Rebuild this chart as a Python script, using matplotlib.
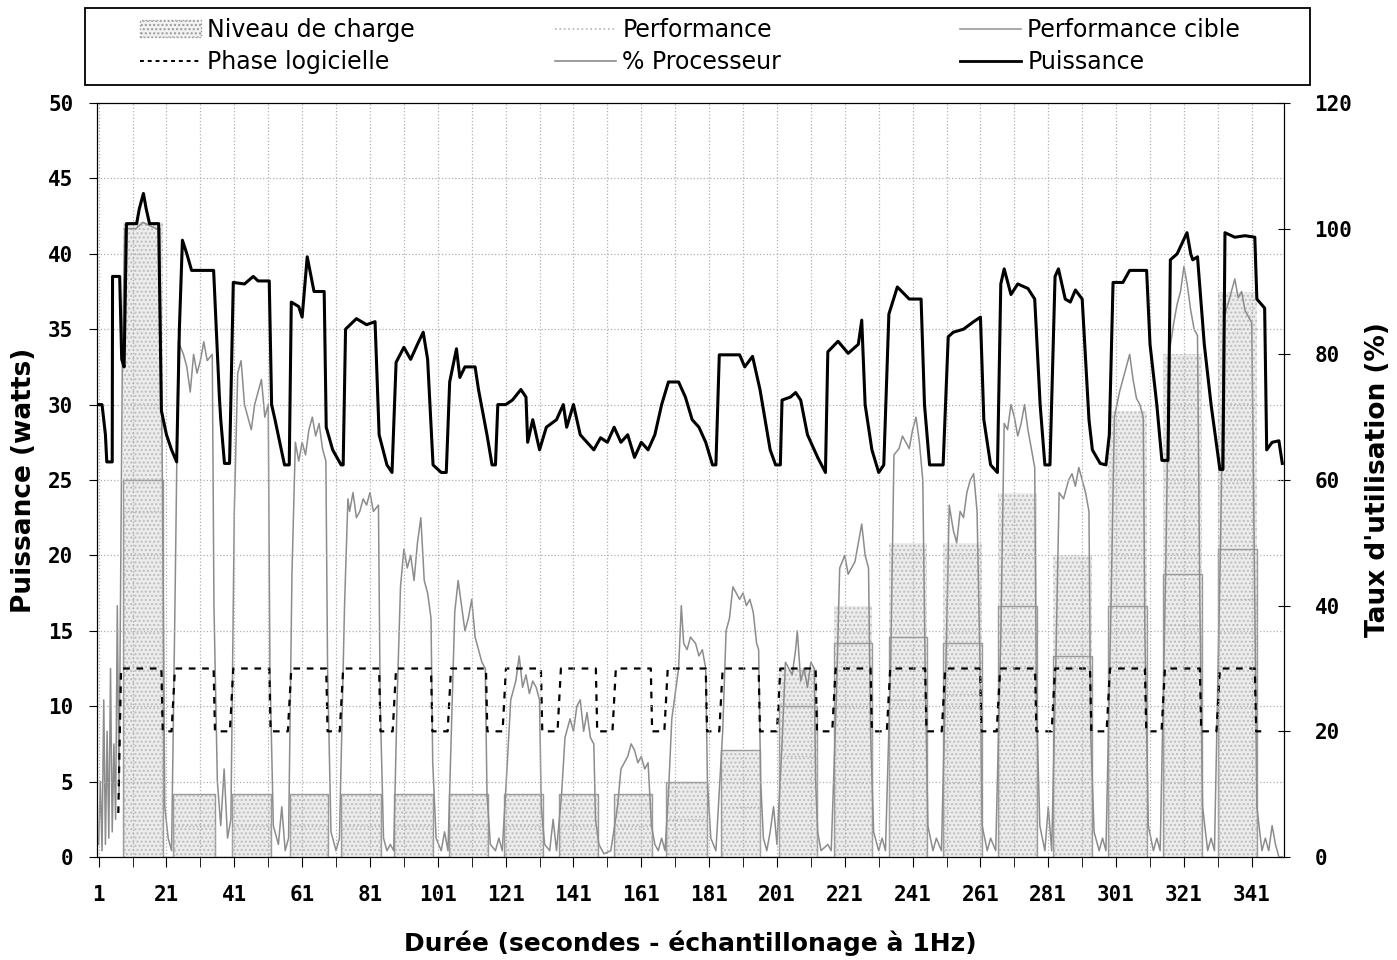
import matplotlib
matplotlib.use('Agg')
import numpy as np
import matplotlib.pyplot as plt
import matplotlib.patches as mpatches
from matplotlib.lines import Line2D

# high phases of the software phase (start, end) in seconds
phase_start = [8.7, 23.5, 40.7, 57.8, 73.1, 88.7, 104.9, 121.1, 137.3, 153.5, 168.8,
               185.0, 202.0, 218.3, 234.4, 250.6, 266.8, 283.0, 299.2, 315.4, 331.6]
phase_end = [19.5, 34.9, 51.3, 68.1, 83.7, 99.0, 115.2, 131.4, 147.6, 163.8, 180.0,
             195.6, 212.4, 228.6, 244.7, 260.9, 277.1, 293.3, 309.5, 325.7, 341.9]
phase_high = 30
phase_low = 20

# load level / target performance / performance per phase (% right axis)
charge = [101, 10, 10, 10, 10, 10, 10, 10, 10, 10, 12, 17, 30, 40, 50, 50, 58, 48, 71, 80, 90]
perf_cible = [60, 10, 10, 10, 10, 10, 10, 10, 10, 10, 12, 17, 24, 34, 35, 34, 40, 32, 40, 45, 49]
perf = [55, 5, 5, 5, 5, 5, 5, 5, 5, 5, 6, 8, 16, 24, 25, 26, 30, 30, 31, 37, 41]

# power (seconds, W)
puissance = [
    (1, 30), (2, 30), (3, 28), (3.4, 26.2), (5, 26.2), (5.1, 38.5), (7.2, 38.5), (7.8, 33), (8.5, 32.5),
    (9.2, 42), (12.2, 42), (13, 43), (14.2, 44), (15, 43), (16, 42), (18.7, 42), (19.5, 29.6), (21, 28),
    (22.5, 27), (24, 26.2), (24.8, 35), (25.7, 40.9), (27, 40), (28.4, 38.9), (34.9, 38.9), (36.6, 30.5),
    (37, 29), (38.1, 26.1), (39.6, 26.1), (40.7, 38.1), (44, 38), (46.6, 38.5), (48, 38.2), (51.3, 38.2),
    (52, 30), (53, 29), (55.8, 26), (57.2, 26), (57.8, 36.8), (60, 36.5), (61, 35.8), (62.5, 39.8),
    (64.5, 37.5), (67.5, 37.5), (68.1, 28.5), (70, 27), (72.5, 26), (73.1, 26), (73.8, 35), (77, 35.7),
    (80, 35.3), (82.5, 35.5), (83.7, 28), (86, 26), (87.5, 25.5), (88.7, 32.8), (91, 33.8), (93, 33),
    (95, 34), (96.7, 34.8), (98, 33), (99.6, 26), (102, 25.5), (103.5, 25.5), (104.5, 31.5), (106.5, 33.7),
    (107.5, 31.8), (109, 32.5), (112, 32.5), (113, 31), (115.5, 28), (117, 26), (118, 26), (118.7, 30),
    (121, 30), (123, 30.3), (125.5, 31), (127, 30.5), (127.5, 27.5), (129, 29), (131, 27), (133, 28.5),
    (136, 29), (138, 30), (139, 28.5), (141, 30), (143, 28), (145, 27.5), (147, 27), (149, 27.8),
    (151, 27.5), (153, 28.5), (155, 27.5), (157, 28), (159, 26.5), (161, 27.5), (163, 27), (165, 28),
    (167, 30), (169, 31.5), (172, 31.5), (174, 30.5), (176, 29), (178, 28.5), (180, 27.5), (182, 26),
    (183, 26), (184, 33.3), (190, 33.3), (191.5, 32.5), (193.8, 33.2), (196, 31), (197.5, 29), (199, 27),
    (200.6, 26), (202, 26), (202.5, 30.3), (205, 30.5), (206.5, 30.8), (208, 30.3), (210, 28), (213, 26.5),
    (215.3, 25.5), (216, 33.5), (219, 34.2), (222, 33.4), (225, 34), (226, 35.6), (227, 30), (229, 27),
    (231, 25.5), (232.5, 26), (234, 36), (236.5, 37.8), (240, 37), (243.5, 37), (244.5, 30), (246, 26),
    (250, 26), (251.5, 34.5), (253, 34.8), (256, 35), (259, 35.5), (261, 35.8), (262, 29), (264, 26),
    (266, 25.5), (267, 38), (268, 39), (270, 37.3), (272, 38), (275, 37.7), (277, 37), (278.6, 30),
    (280, 26), (281.5, 26), (283, 38.5), (284, 39), (286, 37), (287.5, 36.8), (289, 37.6), (291, 37),
    (293, 29), (294, 27), (296.3, 26.1), (298, 26), (299, 28), (300.1, 38.1), (303, 38.1), (305, 38.9),
    (310, 38.9), (311, 34), (313, 30), (314.5, 26.3), (316.3, 26.3), (317, 39.6), (319, 40), (321.9, 41.4),
    (323, 40), (323.6, 39.6), (325, 39.8), (327, 34), (329, 30), (331.6, 25.7), (332.5, 25.7),
    (333.1, 41.4), (336, 41.1), (339, 41.2), (341.9, 41.1), (342.5, 37), (344.8, 36.4), (345.4, 27),
    (347, 27.5), (349, 27.6), (350, 26.1),
]

# processor usage (seconds, %)
processeur = [
    (1, 2), (1.5, 12), (2, 1), (2.5, 25), (3, 2), (3.5, 20), (4, 3), (4.5, 30), (5, 4), (5.5, 18), (6, 6),
    (6.5, 40), (7, 10), (7.5, 45), (8, 80), (8.7, 100), (12, 100), (14, 101), (18, 100), (19, 100),
    (19.8, 60), (20.5, 8), (21.5, 3), (22.5, 1),
    (23.5, 40), (24.5, 82), (26, 80), (27, 78), (28, 74), (29, 80), (30, 77), (31, 79), (32, 82), (33, 79),
    (34.5, 80), (35, 40), (36, 12), (37, 5), (38, 14), (39, 3), (40, 6),
    (41, 55), (42, 77), (43, 79), (44, 72), (45, 70), (46, 68), (47, 72), (48, 74), (49, 76), (50, 70),
    (51, 72), (51.5, 30), (52.5, 5), (54, 2), (55, 8), (56, 1), (57, 3),
    (58, 45), (59, 66), (60, 63), (61, 66), (62, 64), (63, 68), (64, 70), (65, 67), (66, 69), (67, 65),
    (68, 63), (68.5, 30), (69.5, 4), (71, 1), (72, 3),
    (73.5, 40), (74.5, 57), (75, 55), (76, 58), (77, 54), (78, 55), (79, 57), (80, 56), (81, 58), (82, 55),
    (83.5, 56), (84, 25), (85, 3), (86, 1), (87, 2), (88, 1),
    (89, 25), (90, 43), (91, 49), (92, 46), (93, 48), (94, 44), (95, 50), (96, 54), (97, 44), (98, 42),
    (99, 38), (99.5, 15), (100.5, 3), (102, 1), (103, 4), (104, 1),
    (105, 20), (106, 39), (107, 44), (108, 40), (109, 36), (110, 38), (111, 41), (112, 35), (113, 33),
    (114, 31), (115, 30), (115.5, 10), (116.5, 2), (118, 1), (119, 3), (120, 1),
    (121.5, 15), (122.5, 25), (124, 28), (125, 32), (126, 27), (127, 29), (128, 26), (129, 28), (130, 27),
    (131, 25), (131.5, 8), (132.5, 2), (134, 1), (135, 6), (136, 1),
    (137.5, 10), (138.5, 19), (140, 22), (141, 20), (142, 24), (143, 25), (144, 20), (145, 23), (146, 19),
    (147, 18), (147.5, 6), (148.5, 2), (150, 0.5), (152, 1),
    (154, 8), (155, 14), (156, 15), (157, 16), (158, 18), (159, 17), (160, 15), (161, 16), (162, 14),
    (163, 15), (164, 5), (165, 2), (166, 1), (167, 3), (168, 1),
    (169, 10), (170, 22), (171, 26), (172, 30), (172.8, 40), (173.5, 34), (174.5, 33), (175.5, 35),
    (177, 34), (178, 32), (179, 33), (180, 30), (180.5, 12), (181.5, 3), (183, 1),
    (185, 20), (186, 36), (187, 38), (188, 43), (189, 42), (190, 41), (191, 42), (192, 40), (193, 41),
    (194, 39), (195, 34), (195.6, 33), (196.2, 12), (197, 3), (198, 1), (199, 4), (200, 8), (201, 2),
    (202.5, 18), (203.5, 31), (204.5, 30), (205.5, 29), (206.5, 33), (207, 36), (208, 28), (209, 30),
    (210, 27), (211, 31), (212, 30), (212.4, 12), (213, 4), (214, 1), (216, 2), (217, 1),
    (218.5, 25), (219.5, 46), (221, 48), (222, 45), (223, 46), (224, 47), (225, 50), (226, 53), (227, 48),
    (228, 46), (228.6, 20), (229.5, 4), (231, 1), (232, 3), (233, 1),
    (234.5, 30), (235.5, 64), (237, 65), (238, 67), (239, 66), (240, 65), (241, 68), (242, 70), (243, 66),
    (244, 60), (244.7, 30), (245.5, 5), (247, 1), (248, 3), (249.5, 1),
    (250.8, 30), (251.8, 56), (253, 52), (254, 50), (255, 55), (256, 54), (257, 58), (258, 60), (259, 61),
    (260, 55), (260.9, 30), (261.5, 5), (263, 1), (264, 3), (265.5, 1),
    (267, 35), (268, 69), (269, 68), (270, 72), (271, 70), (272, 67), (273, 69), (274, 72), (275, 68),
    (276, 65), (277, 62), (277.5, 25), (278.5, 5), (280, 1), (281, 8), (282, 1),
    (283.2, 30), (284.2, 58), (285.5, 57), (287, 60), (288, 61), (289, 59), (290, 62), (291, 60),
    (292, 58), (293, 55), (293.5, 20), (294.5, 4), (296, 1), (297, 3), (298, 1),
    (299.5, 40), (300.5, 70), (302, 74), (303, 76), (304, 78), (305, 80), (306, 76), (307, 73), (308, 72),
    (309, 70), (309.5, 35), (310.5, 5), (312, 1), (313, 3), (314, 1),
    (315.6, 45), (316.6, 80), (318, 85), (319, 88), (320, 90), (321, 94), (322, 91), (323, 87), (324, 84),
    (325, 83), (325.7, 40), (326.5, 8), (328, 1), (329, 3), (330, 1),
    (331.8, 50), (332.8, 86), (334, 88), (335, 90), (336, 92), (337, 89), (338, 90), (339, 87), (340, 86),
    (341, 85), (341.9, 40), (342.5, 8), (344, 1), (345, 3), (346, 1), (347, 5), (348, 2), (349, 0), (350, 0),
]

xticks = [1, 21, 41, 61, 81, 101, 121, 141, 161, 181, 201, 221, 241, 261, 281, 301, 321, 341]

puis_t, puis_v = zip(*puissance)
proc_t, proc_v = zip(*processeur)

fig = plt.figure(figsize=(13.97, 9.6), dpi=100)
ax = fig.add_axes([0.0694, 0.1073, 0.8497, 0.7854])
ax2 = ax.twinx()

# phase line
ph_x = [6.8, 7.6]
ph_y = [7, phase_high]
for i, (s, e) in enumerate(zip(phase_start, phase_end)):
    if i > 0:
        ph_x += [s - 1.0, s]
        ph_y += [phase_low, phase_high]
    ph_x += [e, e + 0.4]
    ph_y += [phase_high, phase_low]
ph_x.append(345)
ph_y.append(phase_low)

# load level fill + performance step lines
pc_x, pc_y, pf_x, pf_y = [], [], [], []
for s, e, lv, c, p in zip(phase_start, phase_end, charge, perf_cible, perf):
    ax2.fill_between([s - 0.5, e + 0.5], 0, lv, facecolor='#ececec', edgecolor='#bdbdbd',
                     hatch='....', linewidth=0, zorder=1)
    pc_x += [s - 0.5, s - 0.5, e + 0.5, e + 0.5]
    pc_y += [0, c, c, 0]
    pf_x += [s - 0.3, s - 0.3, e + 0.3, e + 0.3]
    pf_y += [0, p, p, 0]

ax2.plot(pc_x, pc_y, color='#9a9a9a', lw=1.0, zorder=2)
ax2.plot(pf_x, pf_y, color='#b5b5b5', lw=1.0, ls=':', zorder=2)
ax2.plot(proc_t, proc_v, color='#8c8c8c', lw=1.1, zorder=3)
ax2.plot(ph_x, ph_y, color='black', lw=1.6, ls=(0, (3, 3)), zorder=4)
ax.plot(puis_t, puis_v, color='black', lw=2.2, zorder=5)
ax.set_zorder(ax2.get_zorder() + 1)
ax.patch.set_visible(False)

ax.set_xlim(0.5, 350.5)
ax.set_ylim(0, 50)
ax2.set_ylim(0, 120)
ax.set_xticks(xticks)
ax.set_xticks(np.arange(11, 350, 20), minor=True)
ax.set_yticks(np.arange(0, 51, 5))
ax2.set_yticks(np.arange(0, 121, 20))
ax.grid(True, which='both', axis='x', color='#b0b0b0', ls=':', lw=0.9)
ax.grid(True, which='major', axis='y', color='#b0b0b0', ls=':', lw=0.9)

tick_fp = matplotlib.font_manager.FontProperties(family='DejaVu Sans Mono', weight='bold', size=15)
for lab in ax.get_xticklabels() + ax.get_yticklabels() + ax2.get_yticklabels():
    lab.set_fontproperties(tick_fp)
ax.tick_params(axis='x', which='both', length=7, direction='out', pad=13)
ax.tick_params(axis='y', length=6, direction='out', pad=11)
ax2.tick_params(axis='y', length=8, direction='inout', pad=18)

lab_font = dict(family='DejaVu Sans', weight='bold')
ax.set_xlabel('Durée (secondes - échantillonage à 1Hz)', size=18, **lab_font)
ax.xaxis.set_label_coords(0.5, -0.097)
ax.set_ylabel('Puissance (watts)', size=19, **lab_font)
ax.yaxis.set_label_coords(-0.0505, 0.5)
ax2.set_ylabel("Taux d'utilisation (%)", size=19, **lab_font)
ax2.yaxis.set_label_coords(1.068, 0.5)

# legend: framed box with three columns of two entries
fig.patches.append(mpatches.Rectangle((85 / 1397, 1 - 85 / 960), 1225 / 1397, 77 / 960,
                                      transform=fig.transFigure, fill=False,
                                      edgecolor='black', linewidth=1.3))
leg_cols = [
    (140, [mpatches.Patch(facecolor='#f2f2f2', edgecolor='#999999', hatch='....', linestyle=':'),
           Line2D([], [], color='black', lw=1.4, ls=(0, (2, 2)))],
     ['Niveau de charge', 'Phase logicielle']),
    (555, [Line2D([], [], color='#b5b5b5', lw=1.2, ls=':'),
           Line2D([], [], color='#8c8c8c', lw=1.2)],
     ['Performance', '% Processeur']),
    (960, [Line2D([], [], color='#9a9a9a', lw=1.2),
           Line2D([], [], color='black', lw=2.0)],
     ['Performance cible', 'Puissance']),
]
for x0, hs, ls_ in leg_cols:
    fig.legend(hs, ls_, loc='center left', bbox_to_anchor=(x0 / 1397, 1 - 46 / 960),
               prop=dict(family='DejaVu Sans', size=17), frameon=False,
               handlelength=2.6, handletextpad=0.25, borderaxespad=0, borderpad=0,
               labelspacing=0.35)

fig.savefig('out.png', dpi=100)
